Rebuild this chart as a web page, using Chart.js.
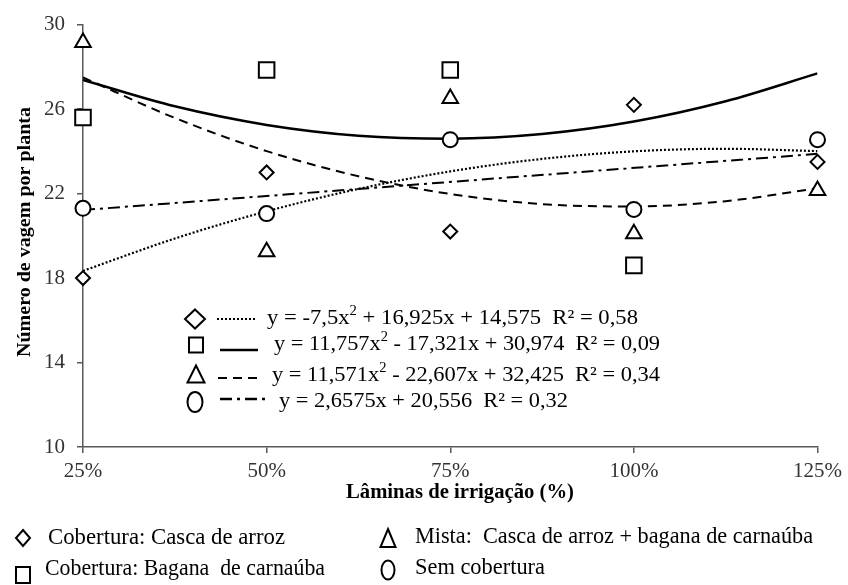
<!DOCTYPE html>
<html><head><meta charset="utf-8">
<script src="https://cdn.jsdelivr.net/npm/chart.js@4.4.0/dist/chart.umd.min.js"></script>
<style>html,body{margin:0;padding:0;background:#fff;}#wrap{width:848px;height:585px;position:relative;}</style>
</head><body><div id="wrap"><canvas id="c" width="848" height="585"></canvas></div>
<script>
// ---- data ----
const irrigation = [25, 50, 75, 100, 125];
const cascaArroz = [18.0, 23.0, 20.2, 26.2, 23.5];
const baganaCarnauba = [25.6, 27.85, 27.85, 18.6, null];
const mista = [29.15, 19.25, 26.5, 20.1, 22.15];
const semCobertura = [21.3, 21.05, 24.55, 21.25, 24.55];

const trendX = [25, 37.5, 50, 62.5, 75, 87.5, 100, 112.5, 125];
const trendCasca = [18.34, 19.87, 21.16, 22.22, 23.05, 23.64, 24.0, 24.12, 24.01];
const trendBagana = [27.38, 26.13, 25.25, 24.74, 24.60, 24.82, 25.41, 26.37, 27.69];
const trendMista = [27.50, 25.58, 24.01, 22.82, 21.98, 21.50, 21.39, 21.64, 22.25];
const trendSemX = [25, 125];
const trendSem = [21.22, 23.88];

const yTicks = [10, 14, 18, 22, 26, 30];
const seriesNames = ['Cobertura: Casca de arroz', 'Cobertura: Bagana  de carnaúba', 'Mista:  Casca de arroz + bagana de carnaúba', 'Sem cobertura'];
const eqCasca = [['y = -7,5x', 0], ['2', 1], [' + 16,925x + 14,575  R² = 0,58', 0]];
const eqBagana = [['y = 11,757x', 0], ['2', 1], [' - 17,321x + 30,974  R² = 0,09', 0]];
const eqMista = [['y = 11,571x', 0], ['2', 1], [' - 22,607x + 32,425  R² = 0,34', 0]];
const eqSem = [['y = 2,6575x + 20,556  R² = 0,32', 0]];
const yTitle = 'Número de vagem por planta';
const xTitle = 'Lâminas de irrigação (%)';

const SERIF = '"Liberation Serif", "Times New Roman", serif';

function pts(xs, ys) { return xs.map((x, i) => ({ x: x, y: ys[i] })); }

function markerDs(ys, style, r) {
  return { data: pts(irrigation, ys), showLine: false, pointStyle: style, pointRadius: r,
    pointBackgroundColor: '#fff', pointBorderColor: '#000', pointBorderWidth: 2, order: 0, clip: false };
}
function trendDs(xs, ys, dash, w) {
  return { data: pts(xs, ys), showLine: true, pointRadius: 0, borderColor: '#000', borderWidth: w,
    borderDash: dash, cubicInterpolationMode: 'monotone', order: 1, fill: false };
}

function marker(ctx, style, x, y, w, h) {
  ctx.save();
  ctx.beginPath();
  ctx.lineWidth = 2; ctx.strokeStyle = '#000'; ctx.fillStyle = '#fff';
  if (style === 'diamond') {
    ctx.moveTo(x, y - h / 2); ctx.lineTo(x + w / 2, y); ctx.lineTo(x, y + h / 2); ctx.lineTo(x - w / 2, y); ctx.closePath();
  } else if (style === 'square') {
    ctx.rect(x - w / 2, y - h / 2, w, h);
  } else if (style === 'triangle') {
    ctx.moveTo(x, y - h / 2); ctx.lineTo(x + w / 2, y + h / 2); ctx.lineTo(x - w / 2, y + h / 2); ctx.closePath();
  } else {
    ctx.ellipse(x, y, w / 2, h / 2, 0, 0, Math.PI * 2);
  }
  ctx.fill(); ctx.stroke();
  ctx.restore();
}

// draws text segments; if width is null the natural width is used
function fitted(ctx, segs, x, y, width, size, bold, align) {
  const f = (s) => (bold ? 'bold ' : '') + s + 'px ' + SERIF;
  let total = 0;
  segs.forEach(([t, sup]) => { ctx.font = f(sup ? size * 0.65 : size); total += ctx.measureText(t).width; });
  const sx = width ? width / total : 1;
  const w = total * sx;
  const x0 = align === 'center' ? x - w / 2 : x;
  ctx.save();
  ctx.translate(x0, y); ctx.scale(sx, 1);
  ctx.textBaseline = 'middle'; ctx.textAlign = 'left'; ctx.fillStyle = '#000';
  let cx = 0;
  segs.forEach(([t, sup]) => {
    ctx.font = f(sup ? size * 0.65 : size);
    ctx.fillText(t, cx, sup ? -size * 0.3 : 0);
    cx += ctx.measureText(t).width;
  });
  ctx.restore();
}

function sample(ctx, x1, x2, y, dash, w) {
  ctx.save(); ctx.beginPath(); ctx.setLineDash(dash); ctx.lineWidth = w; ctx.strokeStyle = '#000';
  ctx.moveTo(x1, y); ctx.lineTo(x2, y); ctx.stroke(); ctx.restore();
}

const DOT = [2, 2], DASH = [9, 6], DASHDOT = [12, 5, 3, 5];

const decor = {
  id: 'decor',
  afterDraw(chart) {
    const ctx = chart.ctx;
    // y title
    ctx.save(); ctx.translate(25, 232); ctx.rotate(-Math.PI / 2);
    fitted(ctx, [[yTitle, 0]], 0, 0, 250, 19, true, 'center');
    ctx.restore();
    // x title
    fitted(ctx, [[xTitle, 0]], 460, 493, 228, 20, true, 'center');
    // inner legend
    marker(ctx, 'diamond', 195, 319, 20, 19);
    sample(ctx, 217, 257, 319, DOT, 2.2);
    fitted(ctx, eqCasca, 267, 318, 371, 22, false);
    marker(ctx, 'square', 196, 345, 14, 15);
    sample(ctx, 220, 258, 350, [], 2.5);
    fitted(ctx, eqBagana, 274, 344, 386, 22, false);
    marker(ctx, 'triangle', 196, 374, 17, 17);
    sample(ctx, 218, 260, 378, DASH, 2);
    fitted(ctx, eqMista, 272, 375, 388, 22, false);
    marker(ctx, 'circle', 195, 402, 15, 20);
    sample(ctx, 220, 267, 399, DASHDOT, 2.5);
    fitted(ctx, eqSem, 279, 401, 289, 22, false);
    // bottom legend
    marker(ctx, 'diamond', 23, 538, 14, 16);
    fitted(ctx, [[seriesNames[0], 0]], 48, 538, 237, 23, false);
    marker(ctx, 'square', 23, 575, 14, 16);
    fitted(ctx, [[seriesNames[1], 0]], 45, 569, 280, 23, false);
    marker(ctx, 'triangle', 388, 538, 15, 18);
    fitted(ctx, [[seriesNames[2], 0]], 415, 537, 398, 23, false);
    marker(ctx, 'circle', 388, 570, 13, 19);
    fitted(ctx, [[seriesNames[3], 0]], 415, 568, 130, 23, false);
  }
};

const axisColor = '#595959';
new Chart(document.getElementById('c'), {
  type: 'scatter',
  data: { datasets: [
    markerDs(cascaArroz, 'rectRot', 7),
    markerDs(baganaCarnauba, 'rect', 11),
    markerDs(mista, 'triangle', 9),
    markerDs(semCobertura, 'circle', 7.5),
    trendDs(trendX, trendCasca, DOT, 2.2),
    trendDs(trendX, trendBagana, [], 2.5),
    trendDs(trendX, trendMista, DASH, 2),
    trendDs(trendSemX, trendSem, DASHDOT, 2)
  ] },
  options: {
    responsive: false, animation: false,
    layout: { padding: { left: 0, right: 29, top: 19, bottom: 0 } },
    plugins: { legend: { display: false }, tooltip: { enabled: false } },
    scales: {
      x: { type: 'linear', min: 25, max: 125,
        afterFit: (s) => { s.height = 138; },
        afterBuildTicks: (s) => { s.ticks = irrigation.map(v => ({ value: v })); },
        ticks: { callback: (v) => v + '%', font: { family: SERIF, size: 21 }, color: '#333', padding: 6, maxRotation: 0 },
        grid: { drawOnChartArea: false, drawTicks: true, tickLength: 6, color: axisColor, lineWidth: 1.5 },
        border: { color: axisColor, width: 1.5 } },
      y: { min: 10, max: 30,
        afterFit: (s) => { s.width = 83; },
        afterBuildTicks: (s) => { s.ticks = yTicks.map(v => ({ value: v })); },
        ticks: { font: { family: SERIF, size: 21 }, color: '#333', padding: 12 },
        grid: { drawOnChartArea: false, drawTicks: true, tickLength: 6, color: axisColor, lineWidth: 1.5 },
        border: { color: axisColor, width: 1.5 } }
    }
  },
  plugins: [decor]
});
</script></body></html>
